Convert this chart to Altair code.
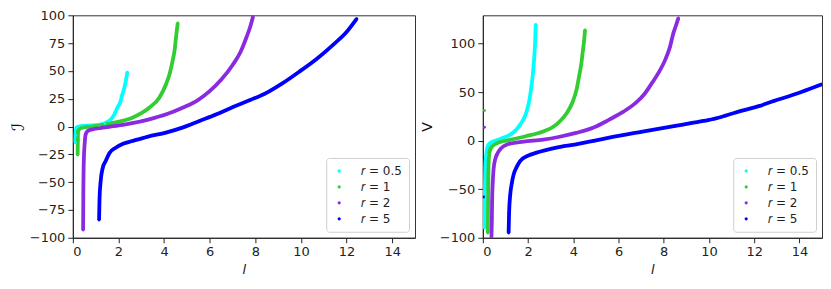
import altair as alt
import pandas as pd

series = ["𝑟 = 0.5", "𝑟 = 1", "𝑟 = 2", "𝑟 = 5"]
colors = ["#00ffff", "#32cd32", "#8a2be2", "#0000ff"]

# ---- left panel: I vs l ----
I_l_05 = [0.11, 0.12, 0.15, 0.25, 0.41, 0.8, 1.15, 1.4, 1.59, 1.8, 1.95, 2.08, 2.17, 2.26, 2.32, 2.39]
I_v_05 = [-14.5, -8, -1, 0.0, 0.5, 1.0, 1.5, 3.0, 5.0, 10.0, 16.9, 22.0, 28.9, 35.0, 40.8, 49.0]

I_l_1 = [0.21, 0.22, 0.23, 0.3, 0.41, 0.8, 1.15, 1.8, 2.61, 3.0, 3.35, 3.79, 4.08, 4.25, 4.37, 4.47, 4.52, 4.6]
I_v_1 = [-25.6, -12, -4.5, -2.0, -1.0, 0.0, 1.0, 3.5, 7.9, 12.0, 16.9, 25.8, 37.8, 48.0, 58.7, 70.0, 79.6, 93.0]

I_l_2 = [0.45, 0.46, 0.48, 0.52, 0.56, 0.65, 0.85, 1.3, 1.88, 2.6, 3.35, 4.1, 4.81, 5.5, 6.0, 6.5, 7.02, 7.35, 7.6, 7.78, 7.9]
I_v_2 = [-93.0, -60.0, -31.0, -15.0, -7.0, -4.0, -2.5, -1.0, 0.5, 3.0, 6.5, 11.0, 16.9, 24.0, 31.8, 42.0, 55.8, 67.0, 79.6, 90.0, 99.0]

I_l_5 = [1.15, 1.17, 1.22, 1.3, 1.44, 1.6, 1.88, 2.2, 2.61, 3.3, 4.08, 4.8, 5.55, 6.3, 7.02, 7.8, 8.49, 9.2, 9.96, 10.7, 11.42, 12.0, 12.45]
I_v_5 = [-84.0, -65.0, -49.0, -38.0, -31.0, -24.0, -19.0, -15.5, -13.0, -9.0, -5.5, -1.0, 5.0, 11.0, 17.5, 24.0, 30.3, 39.0, 49.8, 61.0, 73.7, 85.0, 97.0]

# ---- right panel: V vs l ----
V_l_05 = [0.07, 0.09, 0.11, 0.15, 0.19, 0.3, 0.48, 0.8, 1.21, 1.45, 1.65, 1.82, 1.94, 2.06, 2.16, 2.22, 2.26, 2.31, 2.34]
V_v_05 = [-90.0, -55.0, -28.0, -15.0, -7.6, -3.0, -0.7, 2.0, 6.2, 10.5, 16.5, 23.0, 30.2, 42.0, 57.7, 70.0, 81.8, 100.0, 119.6]

V_l_1 = [0.22, 0.23, 0.24, 0.26, 0.3, 0.41, 0.7, 1.21, 1.9, 2.67, 3.1, 3.4, 3.7, 3.98, 4.15, 4.27, 4.36, 4.42, 4.48, 4.52]
V_v_1 = [-95.0, -70.0, -45.0, -21.0, -11.0, -5.9, -2.0, 0.8, 4.5, 9.4, 14.0, 19.7, 28.0, 40.3, 53.0, 67.8, 80.0, 91.8, 103.0, 114.0]

V_l_2 = [0.38, 0.4, 0.41, 0.44, 0.48, 0.55, 0.63, 0.8, 1.07, 1.8, 2.67, 3.4, 4.13, 4.9, 5.59, 6.2, 6.76, 7.15, 7.48, 7.8, 8.07, 8.27, 8.43, 8.55, 8.65]
V_v_2 = [-100.0, -80.0, -62.0, -42.0, -28.0, -19.0, -14.0, -8.0, -4.0, -1.0, 1.0, 4.0, 7.9, 13.5, 21.6, 29.5, 38.8, 48.0, 59.3, 71.0, 83.4, 96.0, 110.9, 119.0, 126.3]

V_l_5 = [1.14, 1.16, 1.21, 1.28, 1.36, 1.5, 1.65, 2.0, 2.38, 3.2, 4.13, 4.9, 5.59, 7.0, 8.51, 9.2, 9.96, 10.7, 11.42, 12.2, 12.88, 13.9, 14.82, 15.0]
V_v_5 = [-95.0, -75.0, -56.0, -44.0, -35.0, -27.0, -21.0, -15.5, -12.4, -7.5, -3.8, -0.3, 3.0, 9.0, 15.1, 18.0, 21.0, 25.5, 30.6, 35.5, 40.9, 48.5, 56.5, 58.0]

# isolated points near l = 0 in right panel
V_out_l = [0.07, 0.07, 0.03]
V_out_v = [31.0, 13.7, -58.0]
V_out_s = [1, 2, 3]

rows = []
for panel_name, sets in [("I", [(I_l_05, I_v_05), (I_l_1, I_v_1), (I_l_2, I_v_2), (I_l_5, I_v_5)]),
                         ("V", [(V_l_05, V_v_05), (V_l_1, V_v_1), (V_l_2, V_v_2), (V_l_5, V_v_5)])]:
    for si, (xs, ys) in enumerate(sets):
        for k, (a, b) in enumerate(zip(xs, ys)):
            rows.append({"panel": panel_name, "series": series[si], "l": a, "val": b, "ord": k, "kind": "curve"})
for a, b, s in zip(V_out_l, V_out_v, V_out_s):
    rows.append({"panel": "V", "series": series[s], "l": a, "val": b, "ord": 0, "kind": "out"})
df = pd.DataFrame(rows)

color_scale = alt.Scale(domain=series, range=colors)


def panel(name, ytitle, ydom, yticks, ypad, tsize, width):
    base = alt.Chart(df).transform_filter(alt.datum.panel == name)
    xenc = alt.X("l:Q", scale=alt.Scale(domain=[0, 15], nice=False),
                 axis=alt.Axis(values=list(range(0, 15, 2)), title="l", titleFontStyle="italic",
                               titleFontSize=13, titlePadding=5))
    yenc = alt.Y("val:Q", scale=alt.Scale(domain=ydom, nice=False),
                 axis=alt.Axis(values=yticks, title=ytitle, titleFontSize=tsize, titlePadding=ypad))
    line = base.transform_filter(alt.datum.kind == "curve").mark_line(
        strokeWidth=3.8, clip=True, interpolate="monotone").encode(
        x=xenc, y=yenc,
        color=alt.Color("series:N", scale=color_scale, legend=None),
        order="ord:Q",
        detail="series:N",
    )
    pts = base.mark_circle(size=9, opacity=1, clip=True).encode(
        x=xenc, y=yenc,
        color=alt.Color("series:N", scale=color_scale,
                        legend=alt.Legend(title=None, orient="bottom-right", offset=6,
                                          symbolSize=10, symbolType="circle",
                                          labelFontSize=12, rowPadding=4, padding=7,
                                          fillColor="white", strokeColor="#d0d0d0",
                                          cornerRadius=3, labelOffset=16)),
    )
    return alt.layer(line, pts).resolve_legend(color="independent").properties(width=width, height=223)


left = panel("I", "ℐ", [-100, 100], [-100, -75, -50, -25, 0, 25, 50, 75, 100], 2, 17, 343)
right = panel("V", "V", [-100, 129], [-100, -50, 0, 50, 100], 5, 14, 340)

chart = alt.hconcat(left, right, spacing=3).properties(
    padding={"left": 0, "top": 0, "right": 0, "bottom": 0}
).configure_view(stroke="#333", strokeWidth=1).configure_axis(
    labelFont="DejaVu Sans", titleFont="DejaVu Sans", labelFontSize=13, labelColor="#222",
    titleColor="#111", titleFontWeight="normal", domainColor="#222", tickColor="#222",
    tickSize=5, grid=False, labelPadding=3
).configure_legend(labelFont="DejaVu Sans", labelColor="#222")

chart.save("out.html", embed_options={"renderer": "svg", "actions": False})
